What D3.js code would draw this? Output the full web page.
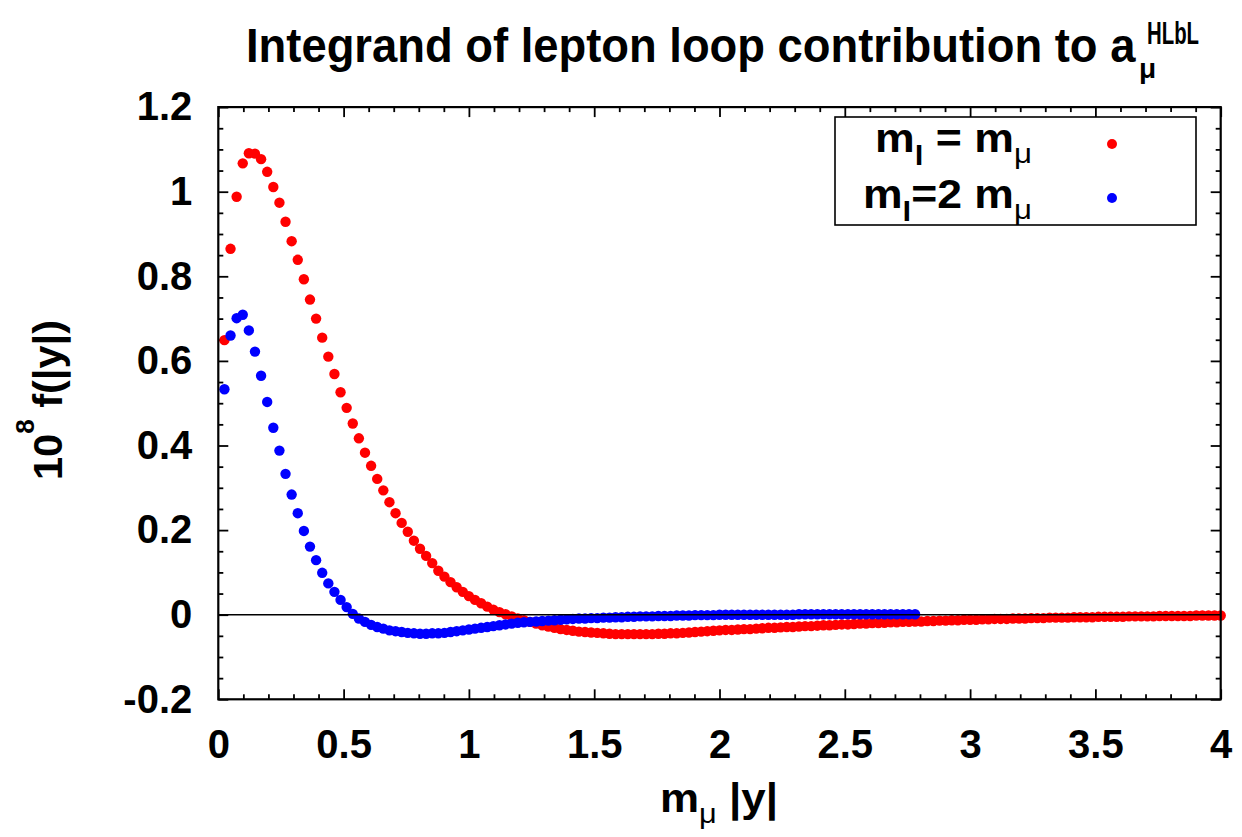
<!DOCTYPE html>
<html>
<head>
<meta charset="utf-8">
<script src="https://cdn.jsdelivr.net/npm/d3@7"></script>
<style>
  body { margin: 0; background: #fff; }
  svg { display: block; }
  text { font-family: "Liberation Sans", Arial, Helvetica, sans-serif; font-weight: bold; fill: #000; }
</style>
</head>
<body>
<svg id="chart" width="1242" height="837"></svg>
<script>
// Sampling grid in m_mu |y|: both series use the same uniform step, starting one step from 0.
const xStep = 4 / 164;

// 10^8 f(|y|) for m_l = m_mu
const redValues = [
  0.649, 0.865, 0.988, 1.067, 1.091, 1.090, 1.077, 1.047, 1.011, 0.974,
  0.929, 0.883, 0.839, 0.793, 0.745, 0.700, 0.655, 0.610, 0.569, 0.526,
  0.489, 0.452, 0.417, 0.383, 0.352, 0.321, 0.294, 0.266, 0.240, 0.217,
  0.196, 0.175, 0.156, 0.139, 0.122, 0.104, 0.090, 0.077, 0.065, 0.054,
  0.044, 0.035, 0.027, 0.019, 0.012, 0.006, 0.001, -0.004, -0.009, -0.013,
  -0.017, -0.021, -0.025, -0.028, -0.031, -0.034, -0.036, -0.038, -0.040, -0.041,
  -0.042, -0.043, -0.044, -0.045, -0.046, -0.046, -0.046, -0.046, -0.046, -0.046,
  -0.046, -0.045, -0.045, -0.044, -0.044, -0.043, -0.042, -0.041, -0.040, -0.039,
  -0.038, -0.037, -0.036, -0.036, -0.035, -0.034, -0.034, -0.033, -0.032, -0.031,
  -0.031, -0.030, -0.029, -0.029, -0.028, -0.027, -0.027, -0.026, -0.025, -0.025,
  -0.024, -0.023, -0.023, -0.022, -0.021, -0.021, -0.020, -0.020, -0.019, -0.018,
  -0.018, -0.017, -0.017, -0.016, -0.016, -0.015, -0.015, -0.014, -0.014, -0.013,
  -0.013, -0.012, -0.012, -0.012, -0.011, -0.011, -0.010, -0.010, -0.010, -0.009,
  -0.009, -0.009, -0.008, -0.008, -0.008, -0.007, -0.007, -0.007, -0.007, -0.006,
  -0.006, -0.006, -0.006, -0.005, -0.005, -0.005, -0.005, -0.005, -0.004, -0.004,
  -0.004, -0.004, -0.004, -0.003, -0.003, -0.003, -0.003, -0.003, -0.003, -0.002,
  -0.002, -0.002, -0.002, -0.002
];

// 10^8 f(|y|) for m_l = 2 m_mu
const blueValues = [
  0.533, 0.660, 0.701, 0.709, 0.672, 0.622, 0.565, 0.503, 0.442, 0.388,
  0.333, 0.284, 0.240, 0.198, 0.161, 0.129, 0.099, 0.074, 0.054, 0.035,
  0.018, 0.002, -0.009, -0.017, -0.024, -0.029, -0.033, -0.037, -0.039, -0.041,
  -0.043, -0.044, -0.045, -0.045, -0.044, -0.044, -0.043, -0.041, -0.039, -0.037,
  -0.035, -0.033, -0.031, -0.029, -0.027, -0.025, -0.023, -0.021, -0.019, -0.018,
  -0.017, -0.016, -0.015, -0.014, -0.013, -0.012, -0.011, -0.010, -0.009, -0.009,
  -0.008, -0.008, -0.007, -0.007, -0.006, -0.006, -0.005, -0.005, -0.004, -0.004,
  -0.004, -0.003, -0.003, -0.003, -0.002, -0.002, -0.002, -0.001, -0.001, -0.001,
  -0.001, 0.000, 0.000, 0.000, 0.000, 0.000, 0.000, 0.000, 0.000, 0.000,
  0.000, 0.000, 0.000, 0.000, 0.001, 0.001, 0.001, 0.001, 0.001, 0.001,
  0.001, 0.001, 0.001, 0.001, 0.001, 0.001, 0.001, 0.001, 0.001, 0.001,
  0.001, 0.001, 0.001, 0.001
];

const xTicks = [0, 0.5, 1, 1.5, 2, 2.5, 3, 3.5, 4];
const xTickLabels = ["0", "0.5", "1", "1.5", "2", "2.5", "3", "3.5", "4"];
const yTicks = [-0.2, 0, 0.2, 0.4, 0.6, 0.8, 1, 1.2];
const yTickLabels = ["-0.2", "0", "0.2", "0.4", "0.6", "0.8", "1", "1.2"];
const xMinorTicks = d3.range(0, 41).map(i => i / 10).filter(v => Math.abs(v * 2 - Math.round(v * 2)) > 1e-6);
const yMinorTicks = d3.range(-4, 25).map(i => i / 20).filter(v => Math.abs(v * 5 - Math.round(v * 5)) > 1e-6);

const redSeries = redValues.map((v, i) => ({ x: (i + 1) * xStep, y: v }));
const blueSeries = blueValues.map((v, i) => ({ x: (i + 1) * xStep, y: v }));

const svg = d3.select("#chart");
const plot = { left: 218.3, right: 1220.7, top: 107.1, bottom: 699.3 };
const x = d3.scaleLinear().domain([0, 4]).range([plot.left, plot.right]);
const y = d3.scaleLinear().domain([-0.2, 1.2]).range([plot.bottom, plot.top]);

const FONT = '"Liberation Sans", Arial, Helvetica, sans-serif';
const MAJOR = 10, MINOR = 5, TICKW = 1.8;

function styleAxis(g) {
  g.select(".domain").remove();
  g.selectAll(".tick line").attr("stroke", "#000").attr("stroke-width", TICKW);
  g.selectAll("text").attr("font-family", FONT).attr("font-weight", "bold")
    .attr("font-size", 40).attr("fill", "#000");
}

// bottom axis with labels
svg.append("g").attr("transform", `translate(0,${plot.bottom})`)
  .call(d3.axisBottom(x).tickValues(xTicks).tickSize(-MAJOR).tickPadding(30)
    .tickFormat((d, i) => xTickLabels[i]))
  .call(styleAxis);
svg.append("g").attr("transform", `translate(0,${plot.bottom})`)
  .call(d3.axisBottom(x).tickValues(xMinorTicks).tickSize(-MINOR).tickFormat(""))
  .call(styleAxis);
// top mirror ticks
svg.append("g").attr("transform", `translate(0,${plot.top})`)
  .call(d3.axisTop(x).tickValues(xTicks).tickSize(-MAJOR).tickFormat(""))
  .call(styleAxis);
svg.append("g").attr("transform", `translate(0,${plot.top})`)
  .call(d3.axisTop(x).tickValues(xMinorTicks).tickSize(-MINOR).tickFormat(""))
  .call(styleAxis);
// left axis with labels
svg.append("g").attr("transform", `translate(${plot.left},0)`)
  .call(d3.axisLeft(y).tickValues(yTicks).tickSize(-MAJOR).tickPadding(26)
    .tickFormat((d, i) => yTickLabels[i]))
  .call(styleAxis);
svg.append("g").attr("transform", `translate(${plot.left},0)`)
  .call(d3.axisLeft(y).tickValues(yMinorTicks).tickSize(-MINOR).tickFormat(""))
  .call(styleAxis);
// right mirror ticks
svg.append("g").attr("transform", `translate(${plot.right},0)`)
  .call(d3.axisRight(y).tickValues(yTicks).tickSize(-MAJOR).tickFormat(""))
  .call(styleAxis);
svg.append("g").attr("transform", `translate(${plot.right},0)`)
  .call(d3.axisRight(y).tickValues(yMinorTicks).tickSize(-MINOR).tickFormat(""))
  .call(styleAxis);

// data points: red first, blue on top
const R = 5.2;
svg.append("g").selectAll("circle").data(redSeries).join("circle")
  .attr("cx", d => x(d.x)).attr("cy", d => y(d.y)).attr("r", R).attr("fill", "#ff0000");
svg.append("g").selectAll("circle").data(blueSeries).join("circle")
  .attr("cx", d => x(d.x)).attr("cy", d => y(d.y)).attr("r", R).attr("fill", "#0000ff");

// zero line
svg.append("line")
  .attr("x1", x(0)).attr("x2", x(4)).attr("y1", y(0)).attr("y2", y(0))
  .attr("stroke", "#000").attr("stroke-width", 1.6);

// frame
svg.append("rect")
  .attr("x", plot.left).attr("y", plot.top)
  .attr("width", plot.right - plot.left).attr("height", plot.bottom - plot.top)
  .attr("fill", "none").attr("stroke", "#000").attr("stroke-width", 2.2);

// Text helper: builds a text at the origin of a group, then stretches it horizontally to a target width.
function fitted(parent, transformPrefix, width, build) {
  const g = parent.append("g");
  const t = g.append("text").attr("x", 0).attr("y", 0);
  build(t);
  const w = t.node().getBBox().width;
  g.attr("transform", `${transformPrefix} scale(${width / w},1)`);
  return g;
}

// title
fitted(svg, "translate(246,62)", 890, t => {
  t.attr("font-size", 48).text("Integrand of lepton loop contribution to a");
});
svg.append("text").attr("x", 1139).attr("y", 78).attr("font-size", 28)
  .attr("font-weight", "normal").text("μ");
fitted(svg, "translate(1147,44)", 52, t => {
  t.attr("font-size", 31).text("HLbL");
});

// x axis title
fitted(svg, "translate(660,812)", 118, t => {
  t.attr("font-size", 40);
  t.append("tspan").text("m");
  t.append("tspan").attr("font-size", 28).attr("font-weight", "normal").attr("dy", 11).text("μ");
  t.append("tspan").attr("dy", -11).text(" |y|");
});

// y axis title
fitted(svg, "translate(62,480) rotate(-90)", 160, t => {
  t.attr("font-size", 40);
  t.append("tspan").text("10");
  t.append("tspan").attr("font-size", 25).attr("dy", -28).text("8");
  t.append("tspan").attr("dy", 28).text(" f(|y|)");
});

// legend
const legend = svg.append("g");
legend.append("rect").attr("x", 835).attr("y", 117).attr("width", 361).attr("height", 108)
  .attr("fill", "#fff").attr("stroke", "#000").attr("stroke-width", 1.6);
const legendRows = [
  { color: "#ff0000", x0: 875, baseline: 152, dotY: 144, parts: ["m", "l", " = m", "μ"] },
  { color: "#0000ff", x0: 863, baseline: 208, dotY: 198, parts: ["m", "l", "=2 m", "μ"] }
];
legendRows.forEach(row => {
  fitted(legend, `translate(${row.x0},${row.baseline})`, 1032 - row.x0, t => {
    t.attr("font-size", 40);
    t.append("tspan").text(row.parts[0]);
    t.append("tspan").attr("font-size", 28).attr("dy", 13).text(row.parts[1]);
    t.append("tspan").attr("dy", -13).text(row.parts[2]);
    t.append("tspan").attr("font-size", 28).attr("font-weight", "normal").attr("dy", 11).text(row.parts[3]);
  });
  legend.append("circle").attr("cx", 1112).attr("cy", row.dotY).attr("r", 5).attr("fill", row.color);
});
</script>
</body>
</html>
